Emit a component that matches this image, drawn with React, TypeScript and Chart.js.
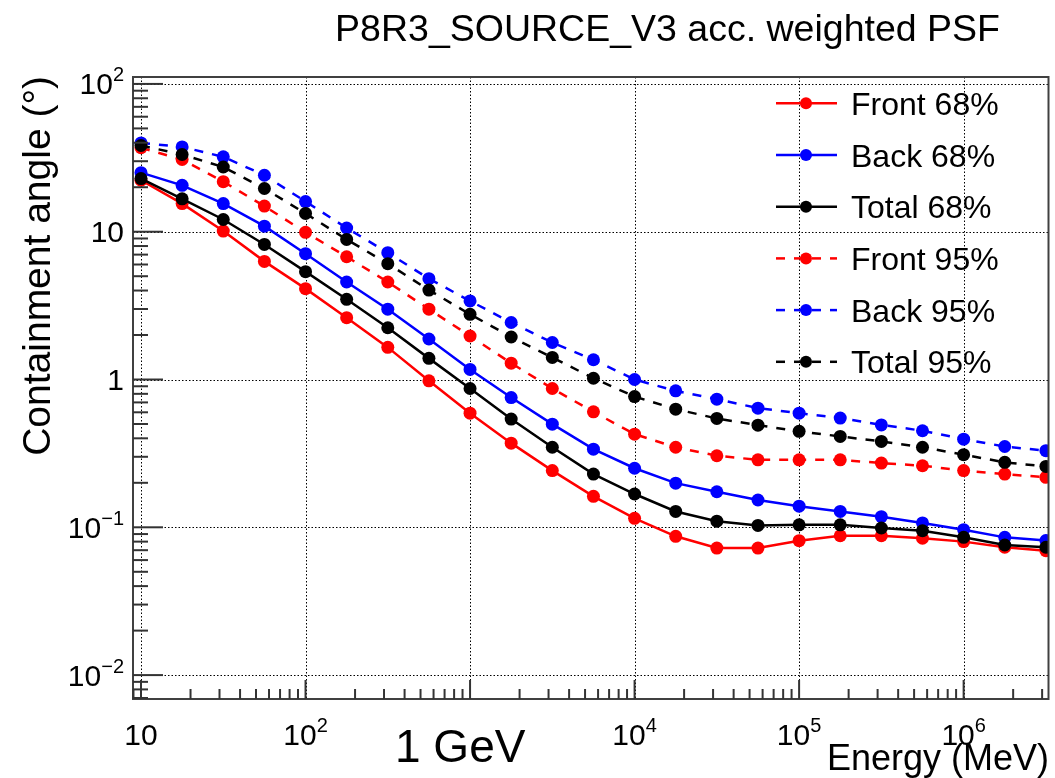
import React, { useEffect, useRef } from "react";
import { Chart, registerables } from "chart.js";

Chart.register(...registerables);

// ---------- data ----------
const energies = [
  10, 17.78, 31.62, 56.23, 100, 177.8, 316.2, 562.3, 1000, 1778, 3162, 5623,
  10000, 17783, 31623, 56234, 100000, 177828, 316228, 562341, 1000000, 1778279, 3162278,
];

const front68 = [
  22.3, 15.5, 10.1, 6.3, 4.12, 2.62, 1.65, 0.98, 0.592, 0.371, 0.242, 0.162,
  0.115, 0.0869, 0.0724, 0.0724, 0.0812, 0.0877, 0.0877, 0.0843, 0.08, 0.0733, 0.0695,
];
const back68 = [
  25.1, 20.6, 15.5, 10.9, 7.1, 4.57, 2.99, 1.88, 1.17, 0.755, 0.499, 0.338,
  0.251, 0.199, 0.174, 0.153, 0.139, 0.128, 0.118, 0.107, 0.0963, 0.0855, 0.0813,
];
const total68 = [
  22.9, 16.7, 12.1, 8.2, 5.37, 3.49, 2.24, 1.39, 0.869, 0.54, 0.348, 0.229,
  0.168, 0.128, 0.11, 0.103, 0.104, 0.104, 0.0989, 0.0948, 0.0855, 0.0759, 0.0733,
];
const front95 = [
  37, 30.8, 21.8, 14.9, 9.9, 6.77, 4.57, 2.99, 1.97, 1.29, 0.869, 0.604,
  0.427, 0.348, 0.305, 0.286, 0.286, 0.286, 0.272, 0.261, 0.242, 0.229, 0.218,
];
const back95 = [
  39.9, 37.5, 32.1, 24.1, 16.0, 10.6, 7.21, 4.81, 3.4, 2.43, 1.78, 1.36,
  1.0, 0.838, 0.736, 0.64, 0.592, 0.548, 0.493, 0.45, 0.395, 0.352, 0.33,
];
const total95 = [
  38.3, 33.3, 27.4, 19.6, 13.3, 8.87, 6.08, 4.03, 2.76, 1.94, 1.41, 1.02,
  0.767, 0.63, 0.545, 0.491, 0.446, 0.412, 0.381, 0.348, 0.31, 0.275, 0.258,
];

const seriesLabels = ["Front 68%", "Back 68%", "Total 68%", "Front 95%", "Back 95%", "Total 95%"];
const seriesValues = [front68, back68, total68, front95, back95, total95];
const seriesColors = ["#ff0000", "#0000ff", "#000000", "#ff0000", "#0000ff", "#000000"];
const seriesDashed = [false, false, false, true, true, true];

const xDecadeExps = [1, 2, 3, 4, 5, 6];
const xLabelExps = [1, 2, 4, 5, 6];
const yDecadeExps = [-2, -1, 0, 1, 2];
const xRange = [8.94, 3.28e6];
const yRange = [0.00689, 111.4];

const titleText = "P8R3_SOURCE_V3 acc. weighted PSF";
const xTitleText = "Energy (MeV)";
const yTitleText = "Containment angle (°)";
const noteText = "1 GeV";

// ---------- drawing helpers ----------
const FONT = '"Liberation Sans", Arial, Helvetica, sans-serif';
const DASH = [9, 9];

function powParts(e: number): [string, string] {
  if (e === 0) return ["1", ""];
  if (e === 1) return ["10", ""];
  return ["10", e < 0 ? "\u2212" + String(-e) : String(e)];
}

function drawPow(ctx: CanvasRenderingContext2D, e: number, x: number, baseline: number, align: "center" | "right") {
  const [b, s] = powParts(e);
  ctx.font = `30px ${FONT}`;
  const wb = ctx.measureText(b).width;
  ctx.font = `20px ${FONT}`;
  const ws = s ? ctx.measureText(s).width : 0;
  const total = wb + ws;
  const start = align === "center" ? x - total / 2 : x - total;
  ctx.textAlign = "left";
  ctx.textBaseline = "alphabetic";
  ctx.font = `30px ${FONT}`;
  ctx.fillText(b, start, baseline);
  if (s) {
    ctx.font = `20px ${FONT}`;
    ctx.fillText(s, start + wb, baseline - 13);
  }
}

const rootPlugin = {
  id: "rootStyle",
  beforeDatasetsDraw(chart: any) {
    const { ctx, chartArea, scales } = chart;
    const { left, right, top, bottom } = chartArea;
    ctx.save();
    ctx.strokeStyle = "#000";
    ctx.lineWidth = 1;
    ctx.setLineDash([1.5, 2]);
    for (const e of xDecadeExps) {
      const px = Math.round(scales.x.getPixelForValue(Math.pow(10, e))) + 0.5;
      ctx.beginPath();
      ctx.moveTo(px, top);
      ctx.lineTo(px, bottom);
      ctx.stroke();
    }
    for (const e of yDecadeExps) {
      const py = Math.round(scales.y.getPixelForValue(Math.pow(10, e))) + 0.5;
      ctx.beginPath();
      ctx.moveTo(left, py);
      ctx.lineTo(right, py);
      ctx.stroke();
    }
    ctx.restore();
  },
  afterDatasetsDraw(chart: any) {
    const { ctx, chartArea, scales } = chart;
    const { left, right, top, bottom } = chartArea;
    const xs = scales.x;
    const ys = scales.y;
    ctx.save();
    ctx.setLineDash([]);

    // frame
    ctx.strokeStyle = "#404040";
    ctx.lineWidth = 2;
    ctx.strokeRect(left, top, right - left, bottom - top);

    // ticks
    ctx.strokeStyle = "#333";
    ctx.lineWidth = 2;
    for (let d = 0; d <= 6; d++) {
      for (let m = 1; m <= 9; m++) {
        const v = m * Math.pow(10, d);
        if (v < xRange[0] || v > xRange[1]) continue;
        const px = xs.getPixelForValue(v);
        const len = m === 1 ? 19 : 10;
        ctx.beginPath();
        ctx.moveTo(px, bottom);
        ctx.lineTo(px, bottom - len);
        ctx.stroke();
      }
    }
    for (let d = -3; d <= 2; d++) {
      for (let m = 1; m <= 9; m++) {
        const v = m * Math.pow(10, d);
        if (v < yRange[0] || v > yRange[1]) continue;
        const py = ys.getPixelForValue(v);
        const len = m === 1 ? 30 : 15;
        ctx.beginPath();
        ctx.moveTo(left, py);
        ctx.lineTo(left + len, py);
        ctx.stroke();
      }
    }

    // tick labels
    ctx.fillStyle = "#000";
    for (const e of xLabelExps) {
      drawPow(ctx, e, xs.getPixelForValue(Math.pow(10, e)), 745, "center");
    }
    for (const e of yDecadeExps) {
      drawPow(ctx, e, 124, ys.getPixelForValue(Math.pow(10, e)) + 10.5, "right");
    }

    // legend
    chart.data.datasets.forEach((ds: any, i: number) => {
      const cy = 103.3 + i * 51.7;
      ctx.strokeStyle = ds.borderColor;
      ctx.lineWidth = 2.5;
      ctx.setLineDash(ds.borderDash || []);
      ctx.beginPath();
      ctx.moveTo(776, cy);
      ctx.lineTo(837, cy);
      ctx.stroke();
      ctx.setLineDash([]);
      ctx.fillStyle = ds.borderColor;
      ctx.beginPath();
      ctx.arc(806, cy, 6, 0, Math.PI * 2);
      ctx.fill();
      ctx.fillStyle = "#000";
      ctx.font = `32px ${FONT}`;
      ctx.textAlign = "left";
      ctx.textBaseline = "alphabetic";
      ctx.fillText(ds.label, 851, cy + 11.5);
    });

    // titles
    ctx.fillStyle = "#000";
    ctx.font = `37.5px ${FONT}`;
    ctx.textAlign = "right";
    ctx.textBaseline = "alphabetic";
    ctx.fillText(titleText, 1000, 41);

    ctx.font = `36px ${FONT}`;
    ctx.textAlign = "right";
    ctx.fillText(xTitleText, 1049, 770);

    ctx.font = `46px ${FONT}`;
    ctx.textAlign = "left";
    ctx.fillText(noteText, 395, 762);

    ctx.save();
    ctx.translate(50, 76);
    ctx.rotate(-Math.PI / 2);
    ctx.font = `39px ${FONT}`;
    ctx.textAlign = "right";
    ctx.fillText(yTitleText, 0, 0);
    ctx.restore();

    ctx.restore();
  },
};

export default function App() {
  const canvasRef = useRef<HTMLCanvasElement | null>(null);

  useEffect(() => {
    const canvas = canvasRef.current;
    if (!canvas) return;
    const datasets = seriesLabels.map((label, i) => ({
      label,
      data: energies.map((e, j) => ({ x: e, y: seriesValues[i][j] })),
      borderColor: seriesColors[i],
      backgroundColor: seriesColors[i],
      pointBackgroundColor: seriesColors[i],
      pointBorderColor: seriesColors[i],
      pointRadius: 6.5,
      pointBorderWidth: 0,
      borderWidth: 2.5,
      borderDash: seriesDashed[i] ? DASH : [],
      tension: 0,
      fill: false,
      order: seriesLabels.length - i,
    }));
    const chart = new Chart(canvas, {
      type: "line",
      data: { datasets },
      options: {
        animation: false,
        responsive: false,
        devicePixelRatio: 1,
        layout: { padding: { left: 133, right: 4, top: 77, bottom: 79 } },
        plugins: {
          legend: { display: false },
          tooltip: { enabled: false },
          title: { display: false },
        },
        scales: {
          x: { type: "logarithmic", min: xRange[0], max: xRange[1], display: false },
          y: { type: "logarithmic", min: yRange[0], max: yRange[1], display: false },
        },
      },
      plugins: [rootPlugin],
    });
    return () => chart.destroy();
  }, []);

  return (
    <div style={{ position: "fixed", left: 0, top: 0, width: 1055, height: 778, background: "#fff" }}>
      <canvas ref={canvasRef} width={1055} height={778} />
    </div>
  );
}
